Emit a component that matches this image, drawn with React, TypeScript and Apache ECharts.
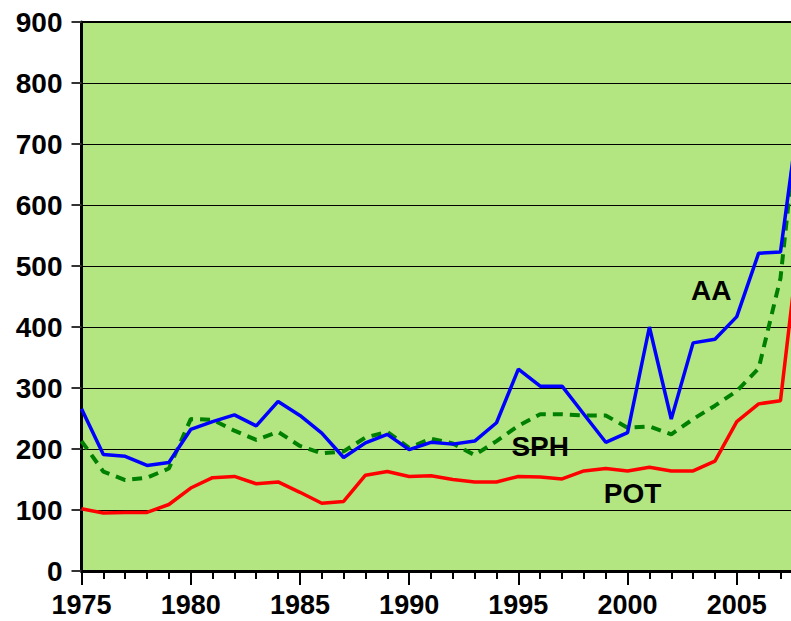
import React, { useEffect, useRef } from "react";
import * as echarts from "echarts";

const years = [
  1975, 1976, 1977, 1978, 1979, 1980, 1981, 1982, 1983, 1984, 1985, 1986,
  1987, 1988, 1989, 1990, 1991, 1992, 1993, 1994, 1995, 1996, 1997, 1998,
  1999, 2000, 2001, 2002, 2003, 2004, 2005, 2006, 2007, 2008,
];

const aa = [
  266, 191, 188, 173, 178, 232, 245, 256, 238, 278, 255, 226, 186, 210, 224,
  199, 211, 208, 213, 243, 331, 303, 303, 257, 211, 227, 400, 249, 374, 380,
  417, 521, 523, 790,
];

const sph = [
  213, 163, 149, 153, 168, 249, 248, 230, 215, 228, 205, 193, 196, 219, 228,
  202, 217, 209, 190, 213, 238, 257, 257, 255, 255, 235, 237, 224, 249, 271,
  295, 332, 480, 815,
];

const pot = [
  102, 95, 96, 96, 109, 136, 153, 155, 143, 146, 129, 111, 114, 157, 163, 155,
  156, 150, 146, 146, 155, 154, 151, 164, 168, 164, 170, 164, 164, 180, 245,
  274, 279, 585,
];

// annotation anchors in data coordinates [year, value]
const labelAA: [number, number] = [2003.83, 460];
const labelSPH: [number, number] = [1996.0, 204];
const labelPOT: [number, number] = [2000.23, 127];

const FONT = "'Liberation Sans', Arial, sans-serif";

function pairs(vals: number[]) {
  return years.map((y, i) => [y, vals[i]]);
}

function annot(text: string, coord: [number, number]) {
  return {
    symbol: "circle",
    symbolSize: 1,
    itemStyle: { color: "rgba(0,0,0,0)" },
    silent: true,
    label: {
      show: true,
      position: "inside",
      formatter: text,
      color: "#000",
      fontSize: 28,
      fontWeight: "bold",
      fontFamily: FONT,
    },
    data: [{ coord }],
  };
}

export default function App() {
  const ref = useRef<HTMLDivElement>(null);

  useEffect(() => {
    document.body.style.margin = "0";
    document.body.style.overflow = "hidden";
    if (!ref.current) return;
    const chart = echarts.init(ref.current, null, { renderer: "svg" });
    chart.setOption({
      animation: false,
      backgroundColor: "#ffffff",
      grid: {
        left: 81.5,
        right: 0,
        top: 22,
        bottom: 50,
        show: true,
        backgroundColor: "#b3e681",
        borderColor: "#000",
        borderWidth: 2,
      },
      xAxis: {
        type: "value",
        min: 1975,
        max: 2010,
        interval: 5,
        minorTick: { show: true, splitNumber: 5, length: 8, lineStyle: { color: "#000", width: 2 } },
        axisTick: { show: true, length: 14, lineStyle: { color: "#000", width: 2 } },
        axisLine: { show: true, lineStyle: { color: "#000", width: 3 } },
        splitLine: { show: false },
        axisLabel: {
          showMaxLabel: false,
          margin: 20,
          color: "#000",
          fontSize: 27,
          fontWeight: "bold",
          fontFamily: FONT,
          formatter: (v: number) => String(v),
        },
      },
      yAxis: {
        type: "value",
        min: 0,
        max: 900,
        interval: 100,
        axisLine: { show: true, lineStyle: { color: "#000", width: 3 } },
        axisTick: { show: true, length: 10, lineStyle: { color: "#333", width: 2 } },
        splitLine: { show: true, lineStyle: { color: "#000", width: 1 } },
        axisLabel: {
          margin: 19,
          color: "#000",
          fontSize: 28,
          fontWeight: "bold",
          fontFamily: FONT,
        },
      },
      series: [
        {
          name: "SPH",
          type: "line",
          data: pairs(sph),
          showSymbol: false,
          lineStyle: { color: "#008000", width: 4, type: [10, 7] },
          markPoint: annot("SPH", labelSPH),
          z: 2,
        },
        {
          name: "POT",
          type: "line",
          data: pairs(pot),
          showSymbol: false,
          lineStyle: { color: "#ff0000", width: 3.5 },
          markPoint: annot("POT", labelPOT),
          z: 3,
        },
        {
          name: "AA",
          type: "line",
          data: pairs(aa),
          showSymbol: false,
          lineStyle: { color: "#0000ff", width: 3.5 },
          markPoint: annot("AA", labelAA),
          z: 4,
        },
      ],
    });
    return () => chart.dispose();
  }, []);

  return (
    <div style={{ width: 791, height: 621, overflow: "hidden" }}>
      <div ref={ref} style={{ width: 846, height: 621 }} />
    </div>
  );
}
